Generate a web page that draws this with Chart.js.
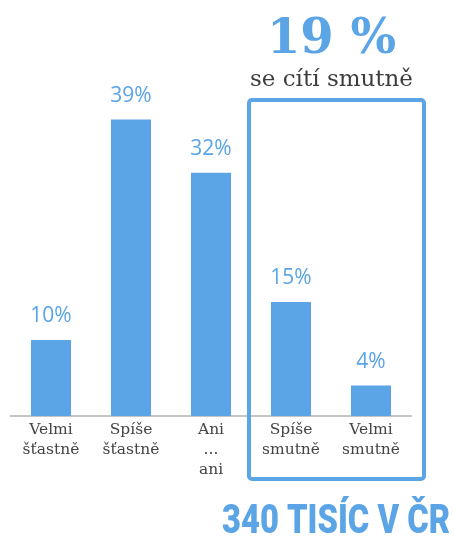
<!DOCTYPE html>
<html><head><meta charset="utf-8">
<script src="https://cdn.jsdelivr.net/npm/chart.js@4/dist/chart.umd.min.js"></script>
<style>html,body{margin:0;padding:0;background:#fff;}canvas{display:block;}</style>
</head><body>
<canvas id="c" width="454" height="536"></canvas>
<script>
const categories = [['Velmi','šťastně'],['Spíše','šťastně'],['Ani','...','ani'],['Spíše','smutně'],['Velmi','smutně']];
const values = [10, 39, 32, 15, 4];
const valueLabels = ['10%','39%','32%','15%','4%'];
const headlineValue = '19 %';
const headlineText = 'se cítí smutně';
const footerText = '340 TISÍC V ČR';

const BLUE = '#5ba4e6';

const valuePlugin = {
  id: 'values',
  afterDatasetsDraw(chart) {
    const ctx = chart.ctx;
    const meta = chart.getDatasetMeta(0);
    ctx.save();
    ctx.fillStyle = BLUE;
    ctx.font = '400 21px "Open Sans"';
    ctx.textAlign = 'center';
    ctx.textBaseline = 'middle';
    meta.data.forEach((bar, i) => {
      ctx.fillText(valueLabels[i], bar.x, bar.y - 24);
    });
    ctx.restore();
  }
};

const annotPlugin = {
  id: 'annot',
  afterDraw(chart) {
    const ctx = chart.ctx;
    const xs = chart.scales.x;
    const left = xs.getPixelForValue(3) - 42;
    const right = xs.getPixelForValue(4) + 53;
    const top = 100, bottom = 479;
    ctx.save();
    ctx.strokeStyle = BLUE;
    ctx.lineWidth = 4;
    ctx.beginPath();
    if (ctx.roundRect) ctx.roundRect(left, top, right - left, bottom - top, 3);
    else ctx.rect(left, top, right - left, bottom - top);
    ctx.stroke();

    const cx = (left + right) / 2 - 5;
    ctx.textAlign = 'center';
    ctx.textBaseline = 'alphabetic';
    ctx.fillStyle = BLUE;
    ctx.font = 'bold 48px "DejaVu Serif"';
    ctx.fillText(headlineValue, cx, 53);
    ctx.fillStyle = '#3d3d3d';
    ctx.font = '23px "DejaVu Serif"';
    ctx.fillText(headlineText, cx, 86);

    // condensed footer
    ctx.fillStyle = BLUE;
    ctx.font = '900 41px Roboto';
    const w = ctx.measureText(footerText).width;
    const targetW = 228;
    const sx = targetW / w;
    ctx.translate(222, 533);
    ctx.scale(sx, 1);
    ctx.textAlign = 'left';
    ctx.fillText(footerText, 0, 0);
    ctx.restore();
  }
};

new Chart(document.getElementById('c'), {
  type: 'bar',
  data: {
    labels: categories,
    datasets: [{ data: values, backgroundColor: BLUE, categoryPercentage: 1, barPercentage: 0.5 }]
  },
  options: {
    responsive: false,
    animation: false,
    layout: { padding: { left: 11, right: 43, top: 36, bottom: 0 } },
    plugins: { legend: { display: false }, tooltip: { enabled: false } },
    scales: {
      y: { display: false, min: 0, max: 50 },
      x: {
        grid: { display: false, drawTicks: false },
        border: { display: true, color: '#c4c4c4', width: 2 },
        ticks: { color: '#444444', font: { family: '"DejaVu Serif"', size: 15.5, lineHeight: 1.29 }, padding: 4, maxRotation: 0, autoSkip: false },
        afterFit(scale) { scale.height = 120; }
      }
    }
  },
  plugins: [valuePlugin, annotPlugin]
});
</script>
</body></html>
